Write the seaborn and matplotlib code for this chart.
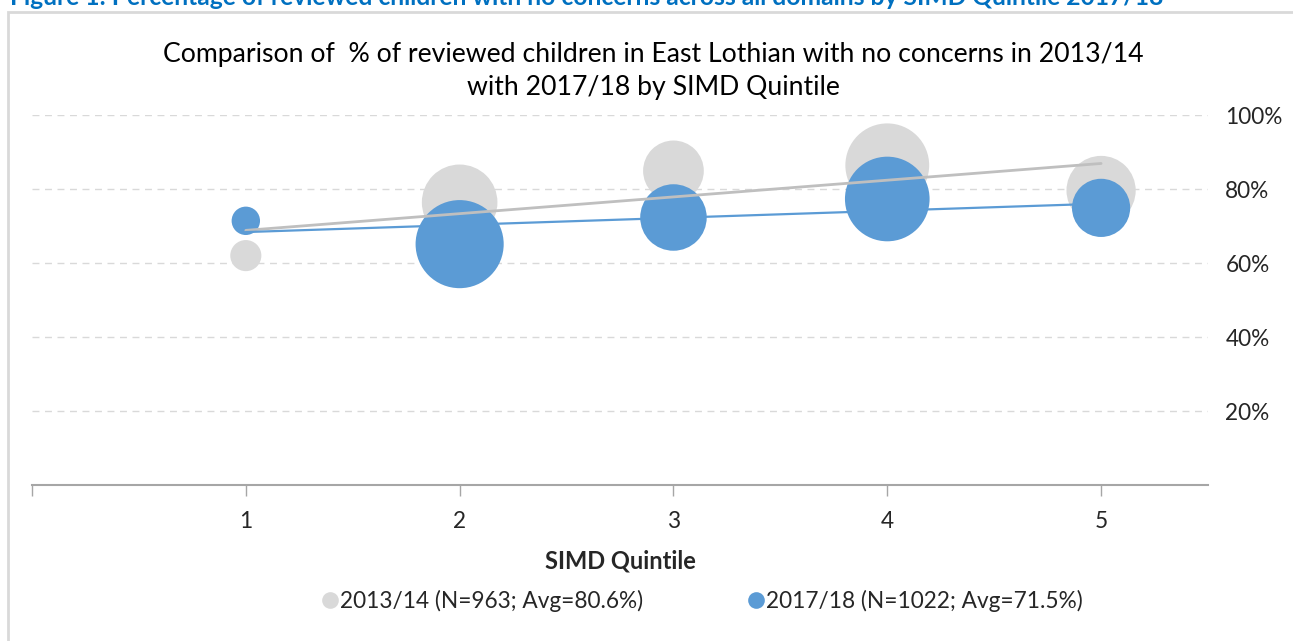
import matplotlib
matplotlib.use('Agg')
import matplotlib.pyplot as plt
import seaborn as sns
import pandas as pd
from matplotlib.lines import Line2D
from matplotlib.patches import Rectangle

# SIMD quintiles and % of reviewed children with no concerns
quintiles = [1, 2, 3, 4, 5]
pct_2013 = [62.0, 76.4, 84.9, 86.4, 79.6]
pct_2017 = [71.4, 65.1, 72.3, 77.3, 74.9]
# number of reviewed children per quintile (bubble size)
n_2013 = [42, 248, 160, 305, 208]
n_2017 = [35, 337, 192, 311, 147]

label_2013 = '2013/14 (N=963; Avg=80.6%)'
label_2017 = '2017/18 (N=1022; Avg=71.5%)'
title = 'Comparison of  % of reviewed children in East Lothian with no concerns in 2013/14\nwith 2017/18 by SIMD Quintile'
header = 'Figure 1: Percentage of reviewed children with no concerns across all domains by SIMD Quintile 2017/18'

grey_fill = '#D9D9D9'
blue_fill = '#5B9BD5'
grey_line = '#BFBFBF'

df13 = pd.DataFrame({'q': quintiles, 'pct': pct_2013, 'n': n_2013})
df17 = pd.DataFrame({'q': quintiles, 'pct': pct_2017, 'n': n_2017})

sns.set_style('white')
plt.rcParams['font.family'] = ['Lato', 'DejaVu Sans']

fig = plt.figure(figsize=(12.93, 6.41), dpi=100)
ax = fig.add_axes([32 / 1293, 1 - 485 / 641, (1208 - 32) / 1293, (485 - 115) / 641])

size_norm = (0, 340)
size_range = (0, 4060)
sns.scatterplot(data=df13, x='q', y='pct', size='n', sizes=size_range, size_norm=size_norm,
                color=grey_fill, linewidth=0, legend=False, ax=ax, zorder=2, clip_on=False)
sns.scatterplot(data=df17, x='q', y='pct', size='n', sizes=size_range, size_norm=size_norm,
                color=blue_fill, linewidth=0, legend=False, ax=ax, zorder=3, clip_on=False)

# linear trendlines
sns.regplot(data=df13, x='q', y='pct', scatter=False, ci=None, truncate=True, ax=ax,
            line_kws={'color': grey_line, 'lw': 2, 'zorder': 4})
sns.regplot(data=df17, x='q', y='pct', scatter=False, ci=None, truncate=True, ax=ax,
            line_kws={'color': blue_fill, 'lw': 1.6, 'zorder': 4})

ax.set_xlim(0, 5.5)
ax.set_ylim(0, 100)
ax.set_xticks([0, 1, 2, 3, 4, 5])
ax.set_xticklabels(['', '1', '2', '3', '4', '5'], fontsize=16.3)
ax.set_yticks([20, 40, 60, 80, 100])
ax.set_yticklabels(['20%', '40%', '60%', '80%', '100%'], fontsize=16.3)
ax.yaxis.tick_right()
ax.tick_params(axis='y', length=0, pad=12.5)
ax.tick_params(axis='x', direction='out', length=8, width=1, color='#A6A6A6', pad=11, bottom=True)
ax.grid(axis='y', color='#D9D9D9', linestyle=(0, (5, 4)), lw=1)
ax.grid(axis='x', visible=False)
for side in ['top', 'left', 'right']:
    ax.spines[side].set_visible(False)
ax.spines['bottom'].set_color('#A6A6A6')
ax.spines['bottom'].set_linewidth(1.5)
ax.set_ylabel('')
ax.set_xlabel('SIMD Quintile', fontsize=17, fontweight='bold', labelpad=12)

fig.text(653 / 1293, 1 - 71 / 641, title, ha='center', va='center', fontsize=19.2,
         linespacing=1.38, color='#000000')

handles = [Line2D([], [], marker='o', ls='', markersize=12, markerfacecolor=grey_fill, markeredgewidth=0),
           Line2D([], [], marker='o', ls='', markersize=12, markerfacecolor=blue_fill, markeredgewidth=0)]
fig.legend(handles, [label_2013, label_2017], loc='center', bbox_to_anchor=(702 / 1293, 1 - 601 / 641),
           ncol=2, frameon=False, fontsize=16.3, handletextpad=0.05, columnspacing=4.6, handlelength=0.8)

# outer chart frame and the cut-off document caption above it
fig.patches.append(Rectangle((8 / 1293, -0.1), 1.2, 1.1 - 12 / 641, transform=fig.transFigure,
                             fill=False, edgecolor='#D9D9D9', lw=2))
fig.text(10 / 1293, 1 - 5 / 641, header, ha='left', va='baseline', fontsize=17.7, fontweight='bold',
         color='#0070C0')

fig.savefig('out.png', dpi=100)
